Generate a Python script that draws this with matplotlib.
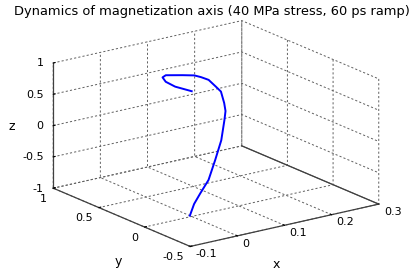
import matplotlib
matplotlib.use("Agg")
import matplotlib.pyplot as plt

# trajectory of the magnetization unit vector
mx = [0.00, 0.04, 0.076, 0.12, 0.17, 0.21, 0.24, 0.25, 0.252, 0.25, 0.24, 0.23, 0.22, 0.20, 0.18,
      0.15, 0.10, 0.066, 0.005, -0.006, 0.00]
my = [0.02, 0.18, 0.30, 0.435, 0.62, 0.76, 0.88, 0.92, 0.945, 0.97, 0.97, 0.96, 0.95, 0.93, 0.90,
      0.875, 0.80, 0.66, 0.31, 0.15, 0.00]
mz = [-1.00, -0.98, -0.95, -0.89, -0.77, -0.61, -0.41, -0.31, -0.20, -0.03, 0.06, 0.14, 0.22, 0.31, 0.39,
      0.46, 0.59, 0.70, 0.95, 0.99, 1.00]

x_ticks = [-0.1, 0, 0.1, 0.2, 0.3]
y_ticks = [-0.5, 0, 0.5, 1]
z_ticks = [-1, -0.5, 0, 0.5, 1]
x_lim = (-0.1, 0.3)
y_lim = (-0.5, 1)
z_lim = (-1, 1)

titulo = "Dynamics of magnetization axis (40 MPa stress, 60 ps ramp)"

plt.rcParams['font.family'] = ['DejaVu Sans']

fig = plt.figure(figsize=(4.15, 2.76), dpi=100)
fig.patch.set_facecolor('white')
ax = fig.add_axes([0.075, -0.1536, 0.8675, 1.3043], projection='3d', proj_type='ortho')
ax.set_box_aspect((1, 1, 0.565), zoom=0.957)
ax.view_init(elev=18, azim=-126)

ax.plot(mx, my, mz, color='#0000ff', linewidth=1.4)

ax.set_xlim(*x_lim)
ax.set_ylim(*y_lim)
ax.set_zlim(*z_lim)

for eixo in (ax.xaxis, ax.yaxis, ax.zaxis):
    eixo.set_pane_color((1, 1, 1, 0))
    eixo.pane.set_edgecolor((1, 1, 1, 0))
    eixo._axinfo['grid'].update(color='#606060', linewidth=0.7, linestyle=(0, (2.2, 2.2)))
    eixo._axinfo['tick'].update(inward_factor=0.0, outward_factor=0.12)
    eixo.line.set_color('#404040')
    eixo.line.set_linewidth(0.9)
ax.xaxis.set_tick_params(labelsize=8, pad=-3)
ax.yaxis.set_tick_params(labelsize=8, pad=-3.5)
ax.zaxis.set_tick_params(labelsize=8, pad=-4)

ax.set_xticks(x_ticks)
ax.set_yticks(y_ticks)
ax.set_zticks(z_ticks)
ax.set_xticklabels(['-0.1', '0', '0.1', '0.2', '0.3'], ha='left', va='center_baseline')
ax.set_yticklabels(['-0.5', '0', '0.5', '1'], ha='right', va='top')
ax.set_zticklabels(['-1', '-0.5', '0', '0.5', '1'], ha='right', va='center_baseline')

# aresta inferior solida do lado direito (como no MATLAB)
ax.plot([x_lim[1], x_lim[1]], list(y_lim), [z_lim[0], z_lim[0]], color='#404040', linewidth=0.9)

# rotulos dos eixos
fig.text(0.667, 0.042, 'x', ha='center', va='center', fontsize=9)
fig.text(0.285, 0.051, 'y', ha='center', va='center', fontsize=9)
fig.text(0.029, 0.540, 'z', ha='center', va='center', fontsize=9)

fig.text(0.51, 0.957, titulo, ha='center', va='center', fontsize=9.4)

fig.savefig('out.png', dpi=100)
